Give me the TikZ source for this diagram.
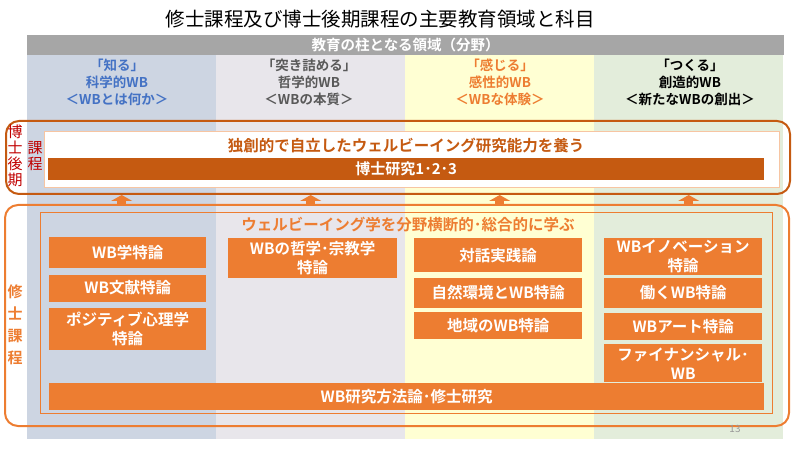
\documentclass[tikz,border=0pt]{standalone}
\usepackage{fontspec}
\setmainfont{Noto Sans CJK JP}[BoldFont={Noto Sans CJK JP Bold}]
\usepackage{xcolor}
\usetikzlibrary{arrows.meta, positioning}
\definecolor{wbBlue}{RGB}{68, 114, 196}
\definecolor{wbGray}{RGB}{89, 89, 89}
\definecolor{wbOrange}{RGB}{237, 125, 49}
\definecolor{wbBrown}{RGB}{197, 90, 17}
\definecolor{wbRed}{RGB}{192, 0, 0}
\definecolor{wbBar}{RGB}{166, 166, 166}
\definecolor{wbColA}{RGB}{205, 213, 226}
\definecolor{wbColB}{RGB}{232, 230, 235}
\definecolor{wbColC}{RGB}{255, 255, 211}
\definecolor{wbColD}{RGB}{227, 237, 219}

\begin{document}
\begin{tikzpicture}[x=1pt, y=-1pt,
        colbg/.style={rectangle, anchor=north west, inner sep=0pt, minimum width=189pt, minimum height=384pt},
        head/.style={align=center, font=\bfseries\fontsize{13.5}{17}\selectfont},
        box/.style={rectangle, fill=wbOrange, text=white, inner sep=0pt, align=center, font=\bfseries\fontsize{15.5}{19}\selectfont},
        frame/.style={rectangle, rounded corners=13pt, line width=2pt, anchor=north west, inner sep=0pt},
        vlabel/.style={align=center, inner sep=0pt, font=\fontsize{15}{16}\selectfont},
        arrow/.style={-{Triangle[width=21pt, length=6pt]}, line width=9pt, wbOrange}
    ]
        \useasboundingbox (0,0) rectangle (800,449);

        % Title and column backgrounds
        \node[font=\fontsize{19.5}{22}\selectfont] (title) at (380,19) {修士課程及び博士後期課程の主要教育領域と科目};
        \node[colbg, fill=wbColA] (colA) at (27,55) {};
        \node[colbg, fill=wbColB] (colB) at (216,55) {};
        \node[colbg, fill=wbColC] (colC) at (405,55) {};
        \node[colbg, fill=wbColD] (colD) at (594,55) {};
        \node[rectangle, fill=wbBar, anchor=north west, inner sep=0pt, minimum width=757pt, minimum height=20pt] (bar) at (27,35) {};
        \node[text=white, font=\bfseries\fontsize{14.5}{16}\selectfont] at (bar.center) {教育の柱となる領域（分野）};

        % Column headings
        \node[head, text=wbBlue] (headA) at (117,82) {「知る」\\科学的WB\\＜WBとは何か＞};
        \node[head, text=wbGray] (headB) at (309,82) {「突き詰める」\\哲学的WB\\＜WBの本質＞};
        \node[head, text=wbOrange] (headC) at (500,82) {「感じる」\\感性的WB\\＜WBな体験＞};
        \node[head, text=black] (headD) at (690,82) {「つくる」\\創造的WB\\＜新たなWBの創出＞};

        % Doctoral course
        \node[frame, draw=wbBrown, minimum width=784pt, minimum height=73pt] (doctor) at (5,120) {};
        \node[rectangle, fill=white, draw=wbOrange!45, anchor=north west, inner sep=0pt, minimum width=735pt, minimum height=56pt] (docin) at (44,131) {};
        \node[text=wbBrown, font=\bfseries\fontsize{15.5}{17}\selectfont] (docaim) at (406,146) {独創的で自立したウェルビーイング研究能力を養う};
        \node[rectangle, fill=wbBrown, text=white, anchor=north west, inner sep=0pt, minimum width=716pt, minimum height=22pt, font=\bfseries\fontsize{15}{17}\selectfont] (docres) at (48,158) {博士研究1･2･3};
        \node[vlabel, text=wbRed] (docA) at (15,156) {博\\士\\後\\期};
        \node[vlabel, text=wbRed] (docB) at (35,156) {課\\程};

        % Master course
        \node[frame, draw=wbOrange, minimum width=784pt, minimum height=221pt] (master) at (4,204) {};
        \node[rectangle, draw=wbOrange, anchor=north west, inner sep=0pt, minimum width=732pt, minimum height=201pt] (mastin) at (40,212) {};
        \node[text=wbOrange, font=\bfseries\fontsize{15.5}{17}\selectfont] (mastaim) at (408,225) {ウェルビーイング学を分野横断的･総合的に学ぶ};
        \node[vlabel, text=wbOrange, font=\bfseries\fontsize{15}{22}\selectfont] (mastlab) at (15,325) {修\\士\\課\\程};

        % Courses
        \node[box, anchor=north west, minimum width=157pt, minimum height=31pt] (a1) at (49,237) {WB学特論};
        \node[box, below=6pt of a1, minimum width=157pt, minimum height=27pt] (a2) {WB文献特論};
        \node[box, below=6pt of a2, minimum width=157pt, minimum height=42pt] (a3) {ポジティブ心理学\\特論};
        \node[box, anchor=north west, minimum width=169pt, minimum height=40pt] (b1) at (228,238) {WBの哲学･宗教学\\特論};
        \node[box, anchor=north west, minimum width=168pt, minimum height=34pt] (c1) at (414,238) {対話実践論};
        \node[box, below=5pt of c1, minimum width=168pt, minimum height=30pt] (c2) {自然環境とWB特論};
        \node[box, below=4pt of c2, minimum width=168pt, minimum height=27pt] (c3) {地域のWB特論};
        \node[box, anchor=north west, minimum width=158pt, minimum height=37pt] (d1) at (604,238) {WBイノベーション\\特論};
        \node[box, below=2pt of d1, minimum width=158pt, minimum height=30pt] (d2) {働くWB特論};
        \node[box, below=5pt of d2, minimum width=158pt, minimum height=27pt] (d3) {WBアート特論};
        \node[box, below=4pt of d3, minimum width=158pt, minimum height=38pt] (d4) {ファイナンシャル･\\WB};
        \node[box, anchor=north west, minimum width=715pt, minimum height=27pt] (thesis) at (49,383) {WB研究方法論･修士研究};

        % Arrows
        \draw[arrow] (master.north -| colA.center) -- (doctor.south -| colA.center);
        \draw[arrow] (master.north -| colB.center) -- (doctor.south -| colB.center);
        \draw[arrow] (master.north -| colC.center) -- (doctor.south -| colC.center);
        \draw[arrow] (master.north -| colD.center) -- (doctor.south -| colD.center);

        \node[text=gray!80, font=\fontsize{10}{11}\selectfont] (page) at (735,429) {13};
    \end{tikzpicture}
\end{document}
